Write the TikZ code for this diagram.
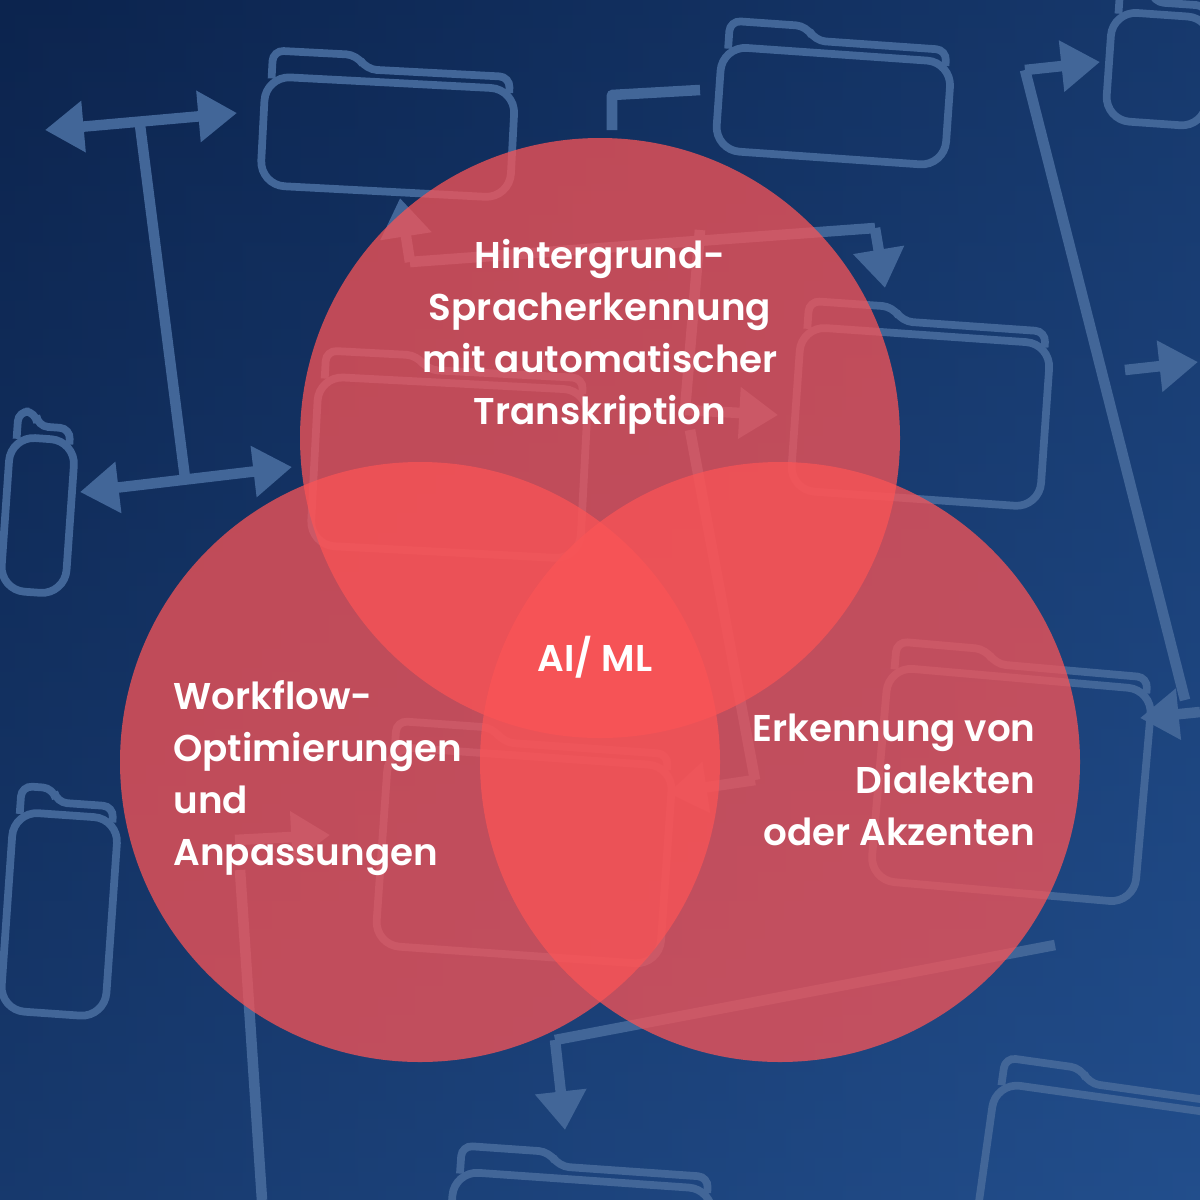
\documentclass[tikz,border=0pt]{standalone}
\usepackage{fontspec}
\setmainfont{Poppins}[UprightFont={* Medium}, BoldFont={* SemiBold}]
\usetikzlibrary{arrows.meta}
\definecolor{navy}{RGB}{12,36,78}
\definecolor{steel}{RGB}{34,78,140}
\definecolor{wire}{RGB}{66,102,152}
\definecolor{venn}{RGB}{250,84,86}
\tikzset{
  wireline/.style={draw=wire, line width=3pt, line join=round},
  wirearrow/.style={wireline, -{Triangle[length=11pt,width=14pt]}},
  wiretwo/.style={wireline, {Triangle[length=11pt,width=14pt]}-{Triangle[length=11pt,width=14pt]}},
  folderline/.style={draw=wire, line width=2.2pt, rounded corners=7pt},
  vennset/.style={fill=venn, fill opacity=0.75},
  venntext/.style={text=white, font=\fontsize{10.6}{14.8}\selectfont\bfseries}
}
% folder outline: lower left corner, width, height, tilt
\newcommand{\folder}[4]{%
  \begin{scope}[shift={(#1)}, rotate=#4]
    \draw[folderline, rounded corners=3pt] (6,-#3+28) -- (6,-#3) -- (0.36*#2,-#3) -- (0.40*#2,-#3+14) -- (#2-6,-#3+14) -- (#2-6,-#3+30);
    \draw[folderline] (0,0) rectangle (#2,-#3+26);
  \end{scope}}
\begin{document}
\begin{tikzpicture}[x=0.01cm, y=-0.01cm]
  \clip (0,0) rectangle (1200,1200);
  % background
  \shade[left color=navy, right color=steel] (0,0) rectangle (1200,1200);
  \shade[top color=navy, bottom color=steel, opacity=0.5] (0,0) rectangle (1200,1200);

  % folders behind the sets
  \folder{260,185}{250}{135}{-3}
  \folder{715,150}{230}{130}{-4}
  \folder{0,590}{65}{180}{-4}
  \folder{790,490}{250}{190}{-4}
  \folder{310,545}{270}{195}{-3}
  \folder{375,945}{285}{225}{-4}
  \folder{870,880}{265}{240}{-5}
  \folder{0,1010}{105}{225}{-4}
  \folder{975,1230}{230}{175}{-8}
  \folder{450,1230}{260}{85}{-4}
  \folder{1105,120}{100}{135}{-4}

  % flow lines behind the sets
  \coordinate (t1) at (140,125);
  \coordinate (t2) at (185,478);
  \draw[wiretwo] (45,130) -- (237,113);
  \draw[wireline] (t1) -- (t2);
  \draw[wiretwo] (80,492) -- (292,467);
  \draw[wirearrow] (410,262) -- (400,198);
  \draw[wireline] (410,262) -- (875,228);
  \draw[wirearrow] (875,228) -- (885,288);
  \draw[wireline] (612,130) -- (612,95) -- (700,90);
  \draw[wirearrow] (1025,70) -- (1100,62);
  \draw[wireline] (1025,70) -- (1185,700);
  \draw[wirearrow] (1125,370) -- (1198,362);
  \draw[wirearrow] (1200,712) -- (1140,718);
  \draw[wirearrow] (685,410) -- (778,415);
  \draw[wireline] (685,410) -- (700,230);
  \draw[wireline] (690,430) -- (755,780);
  \draw[wirearrow] (755,780) -- (668,793);
  \draw[wirearrow] (235,840) -- (330,835);
  \draw[wireline] (240,870) -- (262,1200);
  \draw[wireline] (1055,945) -- (555,1040);
  \draw[wirearrow] (555,1040) -- (565,1130);

  % the three sets
  \fill[vennset] (600,438) circle (300);
  \fill[vennset] (420,762) circle (300);
  \fill[vennset] (780,762) circle (300);

  % labels
  \node (speech) [venntext, align=center] at (600,337) {Hintergrund-\\Spracherkennung\\mit automatischer\\Transkription};
  \node (core) [venntext] at (595,657) {AI/ ML};
  \node (workflow) [venntext, align=left, anchor=west] at (161,778) {Workflow-\\Optimierungen\\und\\Anpassungen};
  \node (dialect) [venntext, align=right, anchor=east] at (1048,780) {Erkennung von\\Dialekten\hspace*{0.1cm}\\oder Akzenten};
\end{tikzpicture}
\end{document}
